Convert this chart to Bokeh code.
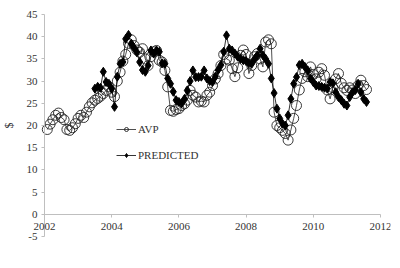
import math
from bokeh.plotting import figure
from bokeh.models import (Range1d, LinearAxis, FixedTicker, Legend, LegendItem,
                          LabelSet, Label, ColumnDataSource)
from bokeh.embed import file_html
from bokeh.resources import INLINE

# months since Jan 2002 (t = 2002 + m/12)
avp_months = list(range(1, 116))
avp = [19.1, 20.3, 21.3, 22.3, 22.8, 21.8, 21.3, 19.1, 18.9, 19.5,
       20.4, 21.6, 22.3, 21.8, 23.0, 24.2, 25.1, 25.7, 26.1, 26.6,
       27.2, 27.9, 28.7, 27.5, 26.5, 30.0, 32.0, 34.5, 36.0, 38.5,
       39.3, 38.0, 37.0, 36.5, 37.3, 35.0, 33.5, 35.5, 36.6, 36.9,
       34.7, 34.3, 32.4, 28.7, 23.4, 23.2, 23.6, 23.8, 24.5, 24.9,
       25.7, 27.9, 26.8, 26.4, 25.3, 25.5, 25.3, 26.8, 27.5, 29.0,
       30.5, 31.7, 33.5, 36.0, 35.0, 34.7, 32.8, 31.0, 33.0, 35.8,
       37.0, 36.0, 31.7, 33.5, 35.5, 36.2, 35.0, 33.2, 38.8, 39.3,
       38.4, 23.0, 20.0, 19.5, 18.9, 18.2, 16.7, 19.0, 21.6, 24.5,
       28.0, 30.6, 32.1, 31.0, 33.2, 31.5, 30.5, 32.0, 32.8, 31.3,
       28.0, 26.0, 28.5, 30.5, 31.7, 29.5, 28.5, 27.9, 28.5, 28.0,
       27.2, 29.0, 30.2, 29.0, 28.1]

pred_months = list(range(18, 116))
pred = [28.3, 28.7, 28.5, 32.1, 29.8, 29.4, 28.3, 24.2, 31.0, 33.9,
        34.3, 39.5, 40.4, 38.4, 37.5, 36.5, 34.3, 32.5, 32.1, 33.5,
        36.9, 36.2, 36.9, 36.6, 34.0, 33.9, 30.6, 29.4, 27.6, 25.7,
        25.3, 25.0, 26.0, 27.9, 30.0, 32.4, 30.9, 30.9, 31.0, 32.4,
        30.6, 30.0, 29.8, 31.0, 32.5, 33.6, 36.6, 40.3, 37.3, 36.9,
        36.2, 35.5, 35.0, 34.7, 34.5, 34.0, 33.9, 35.0, 35.8, 37.3,
        35.8, 35.0, 33.9, 30.6, 27.3, 23.8, 21.6, 20.4, 20.0, 22.3,
        26.0, 29.4, 30.9, 33.6, 33.9, 33.2, 32.4, 30.6, 29.8, 29.0,
        28.9, 28.7, 28.5, 28.3, 29.8, 29.5, 27.5, 26.4, 25.7, 24.9,
        24.5, 26.4, 27.5, 28.0, 29.4, 27.5, 26.0, 25.3]

x_ticks = [2002, 2004, 2006, 2008, 2010, 2012]
x_tick_labels = ["2002", "2004", "2006", "2008", "2010", "2012"]
y_ticks = [-5, 0, 5, 10, 15, 20, 25, 30, 35, 40, 45]
y_tick_labels = ["-5", "0", "5", "10", "15", "20", "25", "30", "35", "40", "45"]

X_MIN, X_MAX = 2002, 2012
Y_MIN, Y_MAX = -5, 45

avp_t = [2002 + m / 12 for m in avp_months]
pred_t = [2002 + m / 12 for m in pred_months]

FONT = "Liberation Serif"
AX = "#bfbfbf"
TXT = "#333333"

# layout: axes box spans px 44..380 (x) and 14..236 (y) in a 400x268 canvas
W, H = 400, 268
BL, BR, BT, BB = 4, 10, 10, 10
left_px, right_px, top_px, bot_px = 44, 380, 14, 236
sx = (right_px - left_px) / (X_MAX - X_MIN)
sy = (bot_px - top_px) / (Y_MAX - Y_MIN)
x0 = X_MIN - (left_px - BL) / sx
x1 = X_MAX + (W - BR - right_px) / sx
y1 = Y_MAX + (top_px - BT) / sy
y0 = Y_MIN - (H - BB - bot_px) / sy

p = figure(width=W, height=H, output_backend="svg", toolbar_location=None,
           x_range=Range1d(x0, x1), y_range=Range1d(y0, y1),
           x_axis_type=None, y_axis_type=None,
           min_border_left=BL, min_border_right=BR, min_border_top=BT,
           min_border_bottom=BB)
p.outline_line_color = None
p.xgrid.visible = False
p.ygrid.visible = False
p.background_fill_color = "white"

xa = LinearAxis(ticker=FixedTicker(ticks=x_ticks), fixed_location=0,
                bounds=(X_MIN, X_MAX))
xa.axis_line_color = AX
xa.major_tick_line_color = AX
xa.major_tick_in = 0
xa.major_tick_out = 3
xa.minor_tick_line_color = None
xa.major_label_text_color = None
xa.major_label_text_font_size = "0px"
xa.major_label_standoff = 0
p.add_layout(xa, "below")

ya = LinearAxis(ticker=FixedTicker(ticks=y_ticks), fixed_location=X_MIN,
                bounds=(Y_MIN, Y_MAX))
ya.axis_line_color = AX
ya.major_tick_line_color = AX
ya.major_tick_in = 0
ya.major_tick_out = 3
ya.minor_tick_line_color = None
ya.major_label_text_color = None
ya.major_label_text_font_size = "0px"
ya.major_label_standoff = 0
p.add_layout(ya, "left")

xlab = ColumnDataSource(dict(x=x_ticks, y=[0] * len(x_ticks), text=x_tick_labels))
p.add_layout(LabelSet(source=xlab, x="x", y="y", text="text",
                      y_offset=-9, text_align="center", text_baseline="top",
                      text_font=FONT, text_font_size="11px", text_color=TXT))

ylab = ColumnDataSource(dict(x=[X_MIN] * len(y_ticks), y=y_ticks, text=y_tick_labels))
p.add_layout(LabelSet(source=ylab, x="x", y="y", text="text",
                      x_offset=-7, text_align="right", text_baseline="middle",
                      text_font=FONT, text_font_size="11px", text_color=TXT))

p.add_layout(Label(x=X_MIN, y=(Y_MIN + Y_MAX) / 2, x_offset=-36, text="$",
                   angle=math.pi / 2, text_align="center", text_baseline="middle",
                   text_font=FONT, text_font_size="12px", text_color=TXT))

l1 = p.line(avp_t, avp, line_color="#222222", line_width=0.8)
c1 = p.scatter(avp_t, avp, marker="circle", size=10, fill_alpha=0,
               line_color="#222222", line_width=0.9)
l2 = p.line(pred_t, pred, line_color="black", line_width=0.8)
c2 = p.scatter(pred_t, pred, marker="diamond", size=9, fill_color="black",
               line_color="black")

legend = Legend(items=[LegendItem(label="AVP", renderers=[l1, c1]),
                       LegendItem(label="PREDICTED", renderers=[l2, c2])],
                location=(112, 97))
legend.background_fill_alpha = 0
legend.border_line_alpha = 0
legend.padding = 0
legend.margin = 0
legend.spacing = 14
legend.glyph_width = 20
legend.glyph_height = 10
legend.label_height = 10
legend.label_standoff = 2
legend.label_text_font = FONT
legend.label_text_font_size = "11px"
legend.label_text_color = TXT
p.add_layout(legend, "center")

open("out.html", "w").write(file_html(p, INLINE))
